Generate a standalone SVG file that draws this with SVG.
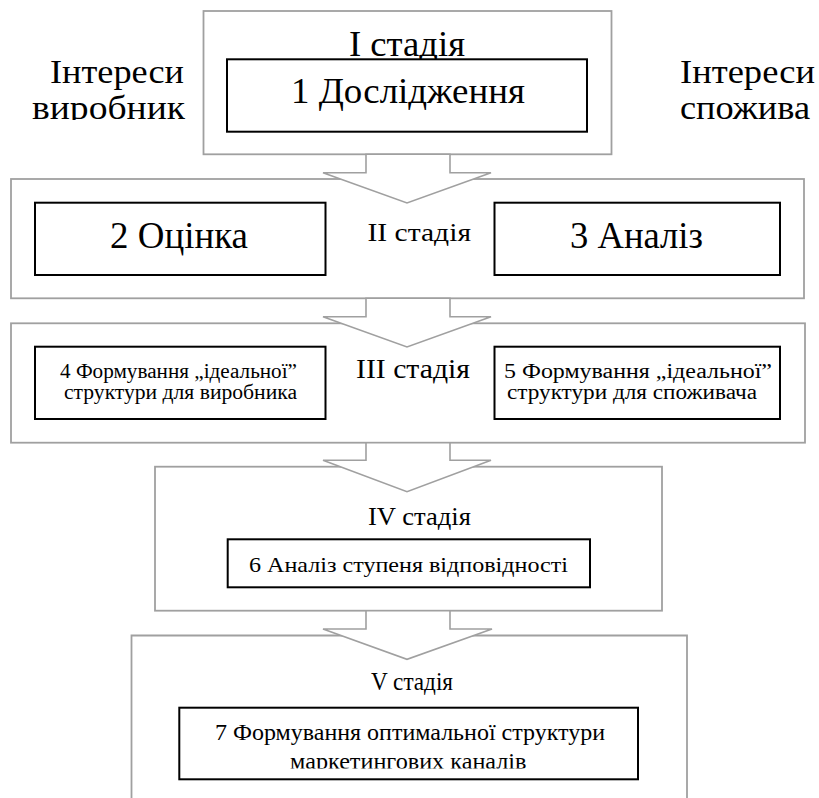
<svg xmlns="http://www.w3.org/2000/svg" width="819" height="798" viewBox="0 0 819 798">
<defs>
<style>
.stage{fill:#ffffff;stroke:#a0a0a0;stroke-width:1.8}
.box{fill:#ffffff;stroke:#000000;stroke-width:2}
.arrow{fill:#ffffff;stroke:#a0a0a0;stroke-width:1.6;stroke-linejoin:miter}
.t{font-family:"Liberation Serif",Liberation Serif,LiberationSerif,Tinos,Times,"Times New Roman","DejaVu Serif","Noto Serif",FreeSerif,serif;fill:#000000}
</style>
<clipPath id="clipTop"><rect x="0" y="0" width="819" height="120"/></clipPath>
<clipPath id="clipBottom"><rect x="0" y="0" width="819" height="768.5"/></clipPath>
</defs>
<rect width="819" height="798" fill="#ffffff"/>

<g id="labels">
<g clip-path="url(#clipTop)">
<text class="t" x="50" y="83" font-size="33" textLength="134" lengthAdjust="spacingAndGlyphs">Інтереси</text>
<text class="t" x="32" y="119" font-size="33" textLength="153" lengthAdjust="spacingAndGlyphs">виробник</text>
<text class="t" x="680" y="83" font-size="33" textLength="135" lengthAdjust="spacingAndGlyphs">Інтереси</text>
<text class="t" x="680" y="119" font-size="33" textLength="130" lengthAdjust="spacingAndGlyphs">спожива</text>
</g>
</g>

<g id="stage1">
<rect class="stage" x="203.5" y="11" width="408" height="143.3"/>
<text class="t" x="349" y="56" font-size="35" textLength="116" lengthAdjust="spacingAndGlyphs">І стадія</text>
</g>
<g id="node1">
<rect class="box" x="227" y="59.3" width="360" height="72.4"/>
<text class="t" x="291" y="103.3" font-size="35" textLength="234" lengthAdjust="spacingAndGlyphs">1 Дослідження</text>
</g>

<g id="stage2">
<rect class="stage" x="11" y="179" width="793" height="119.3"/>
<text class="t" x="367.5" y="241" font-size="25" textLength="103.5" lengthAdjust="spacingAndGlyphs">II стадія</text>
</g>
<g id="node2">
<rect class="box" x="35" y="202.7" width="290.5" height="72.3"/>
<text class="t" x="110" y="248.3" font-size="37" textLength="138" lengthAdjust="spacingAndGlyphs">2 Оцінка</text>
</g>
<g id="node3">
<rect class="box" x="494.5" y="202.7" width="285.5" height="72.3"/>
<text class="t" x="570" y="248.3" font-size="37" textLength="133" lengthAdjust="spacingAndGlyphs">3 Аналіз</text>
</g>

<g id="stage3">
<rect class="stage" x="11" y="323.3" width="794" height="119.4"/>
<text class="t" x="356" y="378" font-size="27" textLength="114" lengthAdjust="spacingAndGlyphs">III стадія</text>
</g>
<g id="node4">
<rect class="box" x="35" y="346.7" width="290.5" height="72.3"/>
<text class="t" x="60" y="377.7" font-size="20" textLength="237" lengthAdjust="spacingAndGlyphs">4 Формування „ідеальної”</text>
<text class="t" x="64" y="399.3" font-size="20" textLength="233" lengthAdjust="spacingAndGlyphs">структури для виробника</text>
</g>
<g id="node5">
<rect class="box" x="494.5" y="346.7" width="285.5" height="72.3"/>
<text class="t" x="504" y="377.7" font-size="20" textLength="268" lengthAdjust="spacingAndGlyphs">5 Формування „ідеальної”</text>
<text class="t" x="507" y="399.3" font-size="20" textLength="250" lengthAdjust="spacingAndGlyphs">структури для споживача</text>
</g>

<g id="stage4">
<rect class="stage" x="155" y="466.7" width="507" height="144"/>
<text class="t" x="368" y="525" font-size="25" textLength="103" lengthAdjust="spacingAndGlyphs">IV стадія</text>
</g>
<g id="node6">
<rect class="box" x="227.7" y="539.3" width="362.3" height="48"/>
<text class="t" x="249" y="571.7" font-size="22" textLength="319" lengthAdjust="spacingAndGlyphs">6 Аналіз ступеня відповідності</text>
</g>

<g id="stage5">
<path class="stage" d="M131.5,800 V635.5 H687 V800"/>
<text class="t" x="371" y="690" font-size="25" textLength="82" lengthAdjust="spacingAndGlyphs">V стадія</text>
</g>
<g id="node7">
<rect class="box" x="179.3" y="707.7" width="458.7" height="71.6"/>
<text class="t" x="215" y="740" font-size="23" textLength="390" lengthAdjust="spacingAndGlyphs">7 Формування оптимальної структури</text>
<g clip-path="url(#clipBottom)">
<text class="t" x="290" y="769" font-size="23" textLength="236.5" lengthAdjust="spacingAndGlyphs">маркетингових каналів</text>
</g>
</g>

<g id="connectors">
<polygon class="arrow" points="366,154.3 450,154.3 450,172.7 491,172.7 407,203 323,172.7 366,172.7"/>
<polygon class="arrow" points="366,298.3 450,298.3 450,316.8 491,316.8 407,347 323,316.8 366,316.8"/>
<polygon class="arrow" points="366,442.7 450,442.7 450,460.2 491,460.2 407,491.7 323,460.2 366,460.2"/>
<polygon class="arrow" points="366,610.7 450,610.7 450,629 492,629 407,659.3 323,629 366,629"/>
</g>
</svg>
